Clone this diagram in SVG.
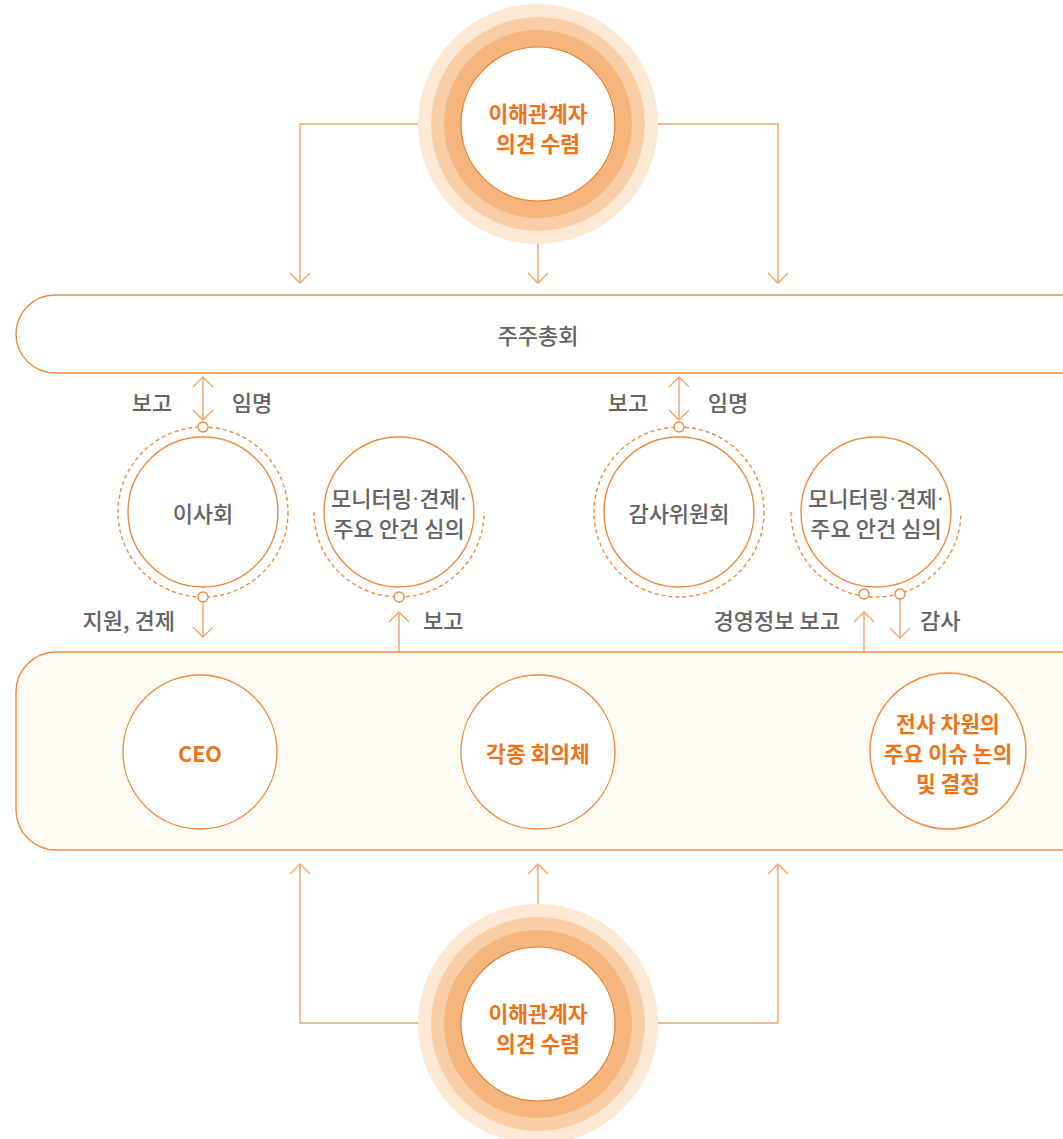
<svg xmlns="http://www.w3.org/2000/svg" width="1063" height="1139" viewBox="0 0 1063 1139">
<style>
text{font-family:"Noto Sans CJK KR","Noto Sans",sans-serif;dominant-baseline:central;text-anchor:middle}
.g{fill:#636363;font-size:22px;font-weight:500}
.gl{fill:#636363;font-size:22px;font-weight:500}
.o{fill:#ee7318;font-size:21.5px;font-weight:bold}
.dt{font-family:"Liberation Sans",sans-serif}
.ln{fill:none;stroke:#f3a268;stroke-width:1.4}
.c{fill:#fff;stroke:#f08a3c;stroke-width:1.4}
.d{fill:none;stroke:#f08a3c;stroke-width:1.4;stroke-dasharray:4 3}
.dot{fill:#fff;stroke:#f08a3c;stroke-width:1.4}
</style>
<defs>
<marker id="ah" markerUnits="userSpaceOnUse" viewBox="-12 -12 14 24" markerWidth="14" markerHeight="24" refX="0" refY="0" orient="auto-start-reverse">
<path d="M-10,-10 L0,0 L-10,10" fill="none" stroke="#f3a268" stroke-width="1.4"/>
</marker>
</defs>
<rect width="1063" height="1139" fill="#fff"/>

<g id="connectors">
<path class="ln" d="M420,124 H300 V283" marker-end="url(#ah)"/>
<path class="ln" d="M538,244 V283" marker-end="url(#ah)"/>
<path class="ln" d="M656,124 H778 V283" marker-end="url(#ah)"/>
<path class="ln" d="M203,377 V420" marker-start="url(#ah)" marker-end="url(#ah)"/>
<path class="ln" d="M679,377 V420" marker-start="url(#ah)" marker-end="url(#ah)"/>
<path class="ln" d="M203,601 V637" marker-end="url(#ah)"/>
<path class="ln" d="M399,652 V612" marker-end="url(#ah)"/>
<path class="ln" d="M864,652 V612" marker-end="url(#ah)"/>
<path class="ln" d="M900,599 V638" marker-end="url(#ah)"/>
<path class="ln" d="M418,1023 H300 V864" marker-end="url(#ah)"/>
<path class="ln" d="M538,905 V864" marker-end="url(#ah)"/>
<path class="ln" d="M658,1023 H778 V864" marker-end="url(#ah)"/>
</g>

<g id="labels">
<text class="gl" x="152" y="401">보고</text>
<text class="gl" x="252" y="401">임명</text>
<text class="gl" x="628" y="401">보고</text>
<text class="gl" x="728" y="401">임명</text>
<text class="gl" x="175" y="619" style="text-anchor:end">지원, 견제</text>
<text class="gl" x="423" y="619" style="text-anchor:start">보고</text>
<text class="gl" x="840" y="619" style="text-anchor:end">경영정보 보고</text>
<text class="gl" x="920" y="619" style="text-anchor:start">감사</text>
</g>

<g id="stakeholder-top">
<circle cx="538" cy="124" r="120" fill="#fde8d4"/>
<circle cx="538" cy="124" r="107" fill="#f9cea6"/>
<circle cx="538" cy="124" r="94" fill="#f5b57c"/>
<circle cx="538" cy="124" r="77" fill="#fff" stroke="#ec7a26" stroke-width="1.2"/>
<text class="o" x="538" y="112">이해관계자</text>
<text class="o" x="538" y="142">의견 수렴</text>
</g>

<g id="shareholders">
<rect x="16" y="295" width="1100" height="78" rx="39" fill="#fff" stroke="#f08a3c" stroke-width="1.4"/>
<text class="g" x="538" y="334">주주총회</text>
</g>

<g id="board">
<circle class="d" cx="203" cy="512" r="85"/>
<circle class="c" cx="203" cy="512" r="75"/>
<circle class="dot" cx="203" cy="427" r="5"/>
<circle class="dot" cx="203" cy="597" r="5"/>
<text class="g" x="203" y="512">이사회</text>
</g>

<g id="monitor1">
<path class="d" d="M314,512 A85,85 0 0 0 484,512"/>
<circle class="c" cx="399" cy="512" r="75"/>
<circle class="dot" cx="399" cy="597" r="5"/>
<text class="g" x="399" y="497">모니터링<tspan class="dt">·</tspan>견제<tspan class="dt">·</tspan></text>
<text class="g" x="399" y="527">주요 안건 심의</text>
</g>

<g id="audit">
<circle class="d" cx="679" cy="512" r="85"/>
<circle class="c" cx="679" cy="512" r="75"/>
<circle class="dot" cx="679" cy="427" r="5"/>
<text class="g" x="679" y="512">감사위원회</text>
</g>

<g id="monitor2">
<path class="d" d="M791,512 A85,85 0 0 0 961,512"/>
<circle class="c" cx="876" cy="512" r="75"/>
<circle class="dot" cx="864" cy="594" r="5"/>
<circle class="dot" cx="900" cy="594" r="5"/>
<text class="g" x="876" y="497">모니터링<tspan class="dt">·</tspan>견제<tspan class="dt">·</tspan></text>
<text class="g" x="876" y="527">주요 안건 심의</text>
</g>

<g id="management">
<rect x="16" y="652" width="1100" height="198" rx="40" fill="#fdfbf4" stroke="#f08a3c" stroke-width="1.4"/>
</g>

<g id="ceo">
<circle class="c" cx="200" cy="752" r="77"/>
<text class="o" x="200" y="752">CEO</text>
</g>

<g id="committees">
<circle class="c" cx="538" cy="752" r="77"/>
<text class="o" x="538" y="752">각종 회의체</text>
</g>

<g id="decisions">
<circle class="c" cx="948" cy="751" r="78"/>
<text class="o" x="948" y="722">전사 차원의</text>
<text class="o" x="948" y="752">주요 이슈 논의</text>
<text class="o" x="948" y="782">및 결정</text>
</g>

<g id="stakeholder-bottom">
<circle cx="538" cy="1024" r="120" fill="#fde8d4"/>
<circle cx="538" cy="1024" r="107" fill="#f9cea6"/>
<circle cx="538" cy="1024" r="94" fill="#f5b57c"/>
<circle cx="538" cy="1024" r="77" fill="#fff" stroke="#ec7a26" stroke-width="1.2"/>
<text class="o" x="538" y="1012">이해관계자</text>
<text class="o" x="538" y="1042">의견 수렴</text>
</g>
</svg>
